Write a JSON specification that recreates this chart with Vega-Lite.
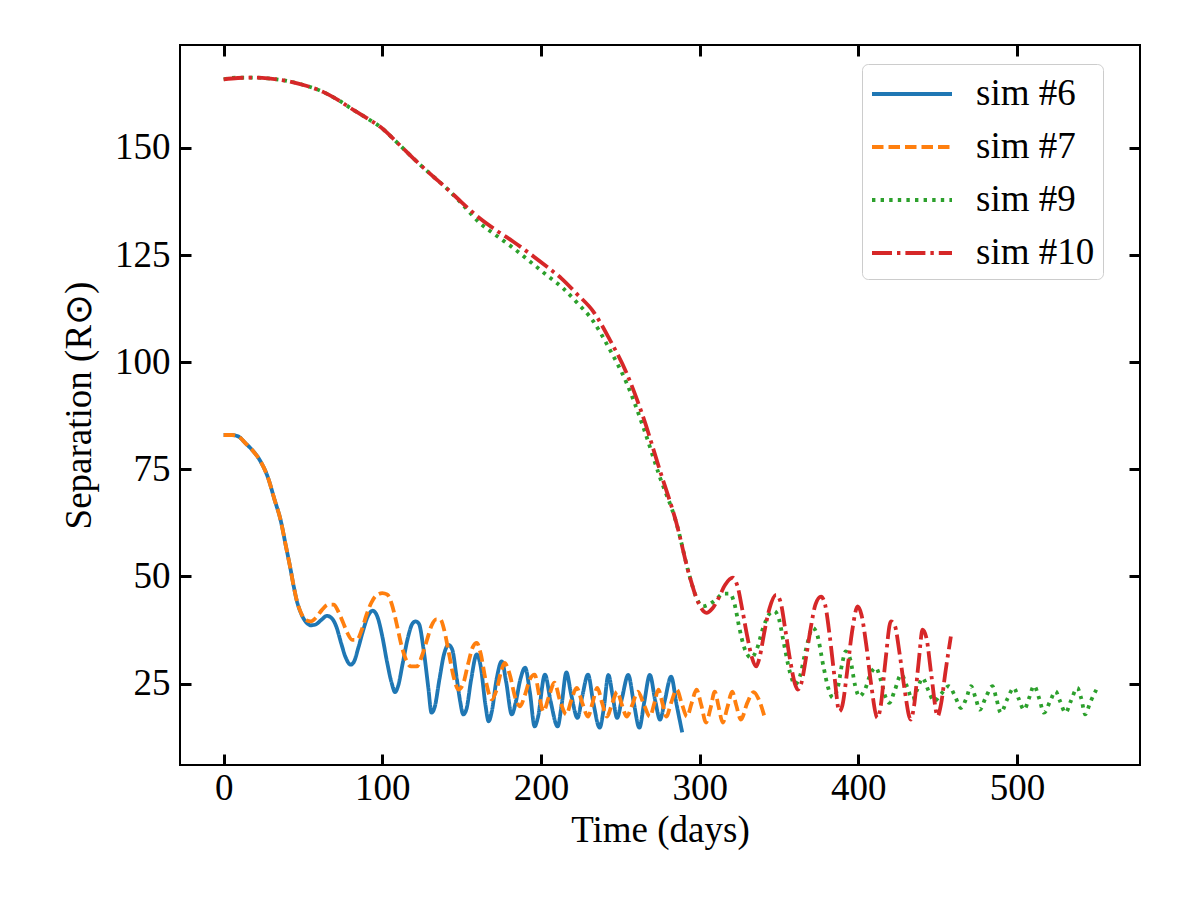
{
"$schema": "https://vega.github.io/schema/vega-lite/v6.json",
"width": 960, "height": 720,
"autosize": {"type": "none"},
"padding": {"left": 180, "top": 45, "right": 60, "bottom": 135},
"background": "white",
"config": {
  "view": {"stroke": "black", "strokeWidth": 2},
  "font": "Liberation Serif",
  "legend": {
    "orient": "none", "legendX": 682, "legendY": 19,
    "symbolType": "M-1,0H3", "symbolSize": 1600, "symbolStrokeWidth": 3.8,
    "labelFont": "Liberation Serif", "labelFontSize": 37, "labelColor": "black",
    "labelOffset": 62, "rowPadding": 13, "padding": 8,
    "strokeColor": "#cccccc", "fillColor": "white", "cornerRadius": 6
  }
},
"data": {"values": [
{"sim":"sim #6","t":0,"r":83},{"sim":"sim #6","t":5,"r":83},{"sim":"sim #6","t":9,"r":82.7},{"sim":"sim #6","t":14,"r":81},{"sim":"sim #6","t":18,"r":79.5},{"sim":"sim #6","t":23,"r":77},{"sim":"sim #6","t":28,"r":73},{"sim":"sim #6","t":32,"r":68},{"sim":"sim #6","t":36,"r":63},{"sim":"sim #6","t":39,"r":57.5},{"sim":"sim #6","t":42,"r":52},{"sim":"sim #6","t":44,"r":48},{"sim":"sim #6","t":46,"r":44.5},{"sim":"sim #6","t":49,"r":41.2},{"sim":"sim #6","t":52,"r":39.3},{"sim":"sim #6","t":55,"r":38.6},{"sim":"sim #6","t":58,"r":38.8},{"sim":"sim #6","t":62,"r":40},{"sim":"sim #6","t":65,"r":40.8},{"sim":"sim #6","t":68,"r":40.3},{"sim":"sim #6","t":71,"r":38.3},{"sim":"sim #6","t":74,"r":34.5},{"sim":"sim #6","t":77,"r":31},{"sim":"sim #6","t":80,"r":29.4},{"sim":"sim #6","t":82,"r":30},{"sim":"sim #6","t":85,"r":33.5},{"sim":"sim #6","t":88,"r":37.5},{"sim":"sim #6","t":91,"r":40.8},{"sim":"sim #6","t":94,"r":42},{"sim":"sim #6","t":97,"r":40.5},{"sim":"sim #6","t":100,"r":36},{"sim":"sim #6","t":103,"r":30},{"sim":"sim #6","t":106,"r":25},{"sim":"sim #6","t":108,"r":23},{"sim":"sim #6","t":110,"r":24.5},{"sim":"sim #6","t":113,"r":30},{"sim":"sim #6","t":116,"r":35.5},{"sim":"sim #6","t":119,"r":39},{"sim":"sim #6","t":121,"r":39.5},{"sim":"sim #6","t":123,"r":39},{"sim":"sim #6","t":126,"r":33},{"sim":"sim #6","t":129,"r":24},{"sim":"sim #6","t":131,"r":18.2},{"sim":"sim #6","t":133,"r":19.5},{"sim":"sim #6","t":136,"r":26},{"sim":"sim #6","t":139,"r":32},{"sim":"sim #6","t":141.7,"r":34},{"sim":"sim #6","t":144,"r":33},{"sim":"sim #6","t":147,"r":26},{"sim":"sim #6","t":149,"r":21},{"sim":"sim #6","t":151,"r":17.8},{"sim":"sim #6","t":153,"r":19},{"sim":"sim #6","t":156,"r":26},{"sim":"sim #6","t":159.5,"r":31.8},{"sim":"sim #6","t":162,"r":29},{"sim":"sim #6","t":165,"r":20},{"sim":"sim #6","t":167,"r":16.2},{"sim":"sim #6","t":169,"r":18.5},{"sim":"sim #6","t":172,"r":26},{"sim":"sim #6","t":175.3,"r":30.2},{"sim":"sim #6","t":178,"r":25.5},{"sim":"sim #6","t":181.6,"r":17.8},{"sim":"sim #6","t":184,"r":20.5},{"sim":"sim #6","t":187,"r":26},{"sim":"sim #6","t":190,"r":28.7},{"sim":"sim #6","t":193,"r":23},{"sim":"sim #6","t":196,"r":15},{"sim":"sim #6","t":198,"r":17},{"sim":"sim #6","t":202.5,"r":27.1},{"sim":"sim #6","t":206,"r":21},{"sim":"sim #6","t":210.5,"r":15},{"sim":"sim #6","t":213,"r":20},{"sim":"sim #6","t":216,"r":27.6},{"sim":"sim #6","t":219,"r":22.5},{"sim":"sim #6","t":223,"r":17},{"sim":"sim #6","t":226,"r":22},{"sim":"sim #6","t":229.6,"r":27.1},{"sim":"sim #6","t":233,"r":20.5},{"sim":"sim #6","t":237,"r":14.7},{"sim":"sim #6","t":239.5,"r":19},{"sim":"sim #6","t":242.5,"r":27},{"sim":"sim #6","t":245,"r":22.5},{"sim":"sim #6","t":248,"r":17},{"sim":"sim #6","t":251,"r":21.5},{"sim":"sim #6","t":255,"r":27},{"sim":"sim #6","t":258.5,"r":20.5},{"sim":"sim #6","t":262,"r":14.7},{"sim":"sim #6","t":265,"r":20.5},{"sim":"sim #6","t":268.6,"r":27},{"sim":"sim #6","t":272,"r":21},{"sim":"sim #6","t":275,"r":16.6},{"sim":"sim #6","t":278,"r":21},{"sim":"sim #6","t":282,"r":26.6},{"sim":"sim #6","t":285.5,"r":20},{"sim":"sim #6","t":289,"r":13.6},
{"sim":"sim #7","t":0,"r":83},{"sim":"sim #7","t":5,"r":83},{"sim":"sim #7","t":9,"r":82.7},{"sim":"sim #7","t":14,"r":81},{"sim":"sim #7","t":18,"r":79.5},{"sim":"sim #7","t":23,"r":77},{"sim":"sim #7","t":28,"r":73},{"sim":"sim #7","t":32,"r":68},{"sim":"sim #7","t":36,"r":63},{"sim":"sim #7","t":39,"r":57.5},{"sim":"sim #7","t":42,"r":52},{"sim":"sim #7","t":44,"r":48},{"sim":"sim #7","t":46,"r":44.5},{"sim":"sim #7","t":49,"r":41.3},{"sim":"sim #7","t":52,"r":39.8},{"sim":"sim #7","t":55,"r":39.5},{"sim":"sim #7","t":58,"r":40.3},{"sim":"sim #7","t":62,"r":42.2},{"sim":"sim #7","t":66,"r":43.4},{"sim":"sim #7","t":69.4,"r":43.4},{"sim":"sim #7","t":72,"r":42},{"sim":"sim #7","t":75,"r":39.5},{"sim":"sim #7","t":78,"r":36.8},{"sim":"sim #7","t":81,"r":35.2},{"sim":"sim #7","t":84,"r":35.2},{"sim":"sim #7","t":87,"r":37.5},{"sim":"sim #7","t":90,"r":41},{"sim":"sim #7","t":93,"r":43.8},{"sim":"sim #7","t":96,"r":45.5},{"sim":"sim #7","t":100,"r":46.1},{"sim":"sim #7","t":103,"r":45.8},{"sim":"sim #7","t":106,"r":43.5},{"sim":"sim #7","t":109,"r":39},{"sim":"sim #7","t":112,"r":34},{"sim":"sim #7","t":115,"r":30.5},{"sim":"sim #7","t":118,"r":29},{"sim":"sim #7","t":121.8,"r":29},{"sim":"sim #7","t":125,"r":31.5},{"sim":"sim #7","t":128,"r":35},{"sim":"sim #7","t":131,"r":38.5},{"sim":"sim #7","t":134,"r":40},{"sim":"sim #7","t":136.5,"r":40},{"sim":"sim #7","t":139,"r":37.5},{"sim":"sim #7","t":142,"r":32},{"sim":"sim #7","t":145,"r":26.5},{"sim":"sim #7","t":148,"r":23.6},{"sim":"sim #7","t":151,"r":25},{"sim":"sim #7","t":154,"r":29.5},{"sim":"sim #7","t":157,"r":33.5},{"sim":"sim #7","t":159.5,"r":34.5},{"sim":"sim #7","t":162,"r":32},{"sim":"sim #7","t":165,"r":26},{"sim":"sim #7","t":169,"r":21.3},{"sim":"sim #7","t":172,"r":23.5},{"sim":"sim #7","t":175,"r":28},{"sim":"sim #7","t":177,"r":29.8},{"sim":"sim #7","t":180,"r":27.5},{"sim":"sim #7","t":184,"r":21.5},{"sim":"sim #7","t":186.8,"r":19.7},{"sim":"sim #7","t":190,"r":22.5},{"sim":"sim #7","t":193,"r":26},{"sim":"sim #7","t":196,"r":27.1},{"sim":"sim #7","t":199,"r":22},{"sim":"sim #7","t":201.5,"r":18.5},{"sim":"sim #7","t":205,"r":22},{"sim":"sim #7","t":208.5,"r":25.2},{"sim":"sim #7","t":212,"r":21},{"sim":"sim #7","t":216,"r":17.8},{"sim":"sim #7","t":219,"r":21},{"sim":"sim #7","t":222.5,"r":24},{"sim":"sim #7","t":226,"r":20.5},{"sim":"sim #7","t":229.6,"r":17.3},{"sim":"sim #7","t":232.5,"r":20.5},{"sim":"sim #7","t":235.5,"r":24},{"sim":"sim #7","t":238.5,"r":20.5},{"sim":"sim #7","t":241.5,"r":17.3},{"sim":"sim #7","t":245,"r":20.5},{"sim":"sim #7","t":248,"r":23.1},{"sim":"sim #7","t":251,"r":20},{"sim":"sim #7","t":254,"r":17.3},{"sim":"sim #7","t":257.5,"r":20},{"sim":"sim #7","t":261,"r":23.1},{"sim":"sim #7","t":265,"r":20},{"sim":"sim #7","t":268.6,"r":17.3},{"sim":"sim #7","t":271.5,"r":20.5},{"sim":"sim #7","t":274,"r":23.6},{"sim":"sim #7","t":276.5,"r":20.5},{"sim":"sim #7","t":279,"r":17.3},{"sim":"sim #7","t":282,"r":20.5},{"sim":"sim #7","t":285.5,"r":23.6},{"sim":"sim #7","t":289,"r":20},{"sim":"sim #7","t":292,"r":17.3},{"sim":"sim #7","t":295,"r":20.5},{"sim":"sim #7","t":298,"r":23.6},{"sim":"sim #7","t":301,"r":20},{"sim":"sim #7","t":304,"r":15.9},{"sim":"sim #7","t":307,"r":19.5},{"sim":"sim #7","t":309.5,"r":23.1},{"sim":"sim #7","t":312,"r":19.5},{"sim":"sim #7","t":314.5,"r":15.9},{"sim":"sim #7","t":317.5,"r":19.5},{"sim":"sim #7","t":320.5,"r":23.1},{"sim":"sim #7","t":323,"r":20},{"sim":"sim #7","t":326,"r":16.6},{"sim":"sim #7","t":330,"r":20.5},{"sim":"sim #7","t":334,"r":23},{"sim":"sim #7","t":337,"r":21.5},{"sim":"sim #7","t":341,"r":17.1},
{"sim":"sim #9","t":0,"r":166},{"sim":"sim #9","t":9,"r":166.4},{"sim":"sim #9","t":18,"r":166.4},{"sim":"sim #9","t":28,"r":166.2},{"sim":"sim #9","t":40,"r":165.6},{"sim":"sim #9","t":52,"r":164.5},{"sim":"sim #9","t":63,"r":163},{"sim":"sim #9","t":72,"r":161.2},{"sim":"sim #9","t":82,"r":158.8},{"sim":"sim #9","t":90,"r":157},{"sim":"sim #9","t":98.7,"r":154.9},{"sim":"sim #9","t":110,"r":151},{"sim":"sim #9","t":119.7,"r":147.5},{"sim":"sim #9","t":130,"r":144},{"sim":"sim #9","t":140.7,"r":140.5},{"sim":"sim #9","t":150,"r":137},{"sim":"sim #9","t":161.6,"r":132.4},{"sim":"sim #9","t":172,"r":129.5},{"sim":"sim #9","t":182.6,"r":126.6},{"sim":"sim #9","t":193,"r":123.5},{"sim":"sim #9","t":203.6,"r":120.3},{"sim":"sim #9","t":214,"r":117.2},{"sim":"sim #9","t":222.4,"r":114},{"sim":"sim #9","t":233,"r":109.5},{"sim":"sim #9","t":243.4,"r":102.9},{"sim":"sim #9","t":254,"r":95.1},{"sim":"sim #9","t":264.3,"r":85},{"sim":"sim #9","t":274.8,"r":73.3},{"sim":"sim #9","t":285.3,"r":62.5},{"sim":"sim #9","t":293.7,"r":50},{"sim":"sim #9","t":298,"r":45},{"sim":"sim #9","t":302,"r":43},{"sim":"sim #9","t":306,"r":43.5},{"sim":"sim #9","t":310,"r":44.5},{"sim":"sim #9","t":315,"r":46},{"sim":"sim #9","t":319,"r":46},{"sim":"sim #9","t":322,"r":43.5},{"sim":"sim #9","t":325,"r":38},{"sim":"sim #9","t":328,"r":33.5},{"sim":"sim #9","t":332.5,"r":31},{"sim":"sim #9","t":336,"r":33},{"sim":"sim #9","t":340,"r":38},{"sim":"sim #9","t":344,"r":41.3},{"sim":"sim #9","t":347,"r":41.9},{"sim":"sim #9","t":350,"r":40},{"sim":"sim #9","t":353,"r":34.5},{"sim":"sim #9","t":357,"r":27.5},{"sim":"sim #9","t":360,"r":24.8},{"sim":"sim #9","t":363,"r":26.5},{"sim":"sim #9","t":367,"r":33},{"sim":"sim #9","t":371.3,"r":38},{"sim":"sim #9","t":374,"r":36.5},{"sim":"sim #9","t":378,"r":29},{"sim":"sim #9","t":381,"r":24},{"sim":"sim #9","t":384,"r":21.7},{"sim":"sim #9","t":387,"r":24},{"sim":"sim #9","t":390,"r":30},{"sim":"sim #9","t":392,"r":32.5},{"sim":"sim #9","t":395,"r":30.5},{"sim":"sim #9","t":398,"r":24.5},{"sim":"sim #9","t":400.6,"r":22},{"sim":"sim #9","t":404,"r":23.5},{"sim":"sim #9","t":408,"r":27.5},{"sim":"sim #9","t":411,"r":28.7},{"sim":"sim #9","t":414,"r":26},{"sim":"sim #9","t":417,"r":22},{"sim":"sim #9","t":419.5,"r":20.5},{"sim":"sim #9","t":423,"r":23.5},{"sim":"sim #9","t":427,"r":27.1},{"sim":"sim #9","t":431,"r":24},{"sim":"sim #9","t":434,"r":21.3},{"sim":"sim #9","t":437,"r":23.5},{"sim":"sim #9","t":440.5,"r":26.3},{"sim":"sim #9","t":444,"r":23.5},{"sim":"sim #9","t":447.8,"r":20.9},{"sim":"sim #9","t":452,"r":22.5},{"sim":"sim #9","t":457,"r":24.4},{"sim":"sim #9","t":461,"r":22},{"sim":"sim #9","t":464.6,"r":19.3},{"sim":"sim #9","t":468,"r":21.5},{"sim":"sim #9","t":471,"r":24.4},{"sim":"sim #9","t":474,"r":21.5},{"sim":"sim #9","t":476.5,"r":18.9},{"sim":"sim #9","t":480,"r":21.5},{"sim":"sim #9","t":484.5,"r":24.4},{"sim":"sim #9","t":487,"r":21.5},{"sim":"sim #9","t":489.7,"r":18.2},{"sim":"sim #9","t":494,"r":21.5},{"sim":"sim #9","t":498,"r":24},{"sim":"sim #9","t":501,"r":21.5},{"sim":"sim #9","t":504.4,"r":18.9},{"sim":"sim #9","t":507.5,"r":21.5},{"sim":"sim #9","t":510.7,"r":24.5},{"sim":"sim #9","t":514,"r":21.5},{"sim":"sim #9","t":517,"r":18.2},{"sim":"sim #9","t":521,"r":21},{"sim":"sim #9","t":524.3,"r":23.2},{"sim":"sim #9","t":527,"r":21},{"sim":"sim #9","t":530.6,"r":18.2},{"sim":"sim #9","t":534,"r":21},{"sim":"sim #9","t":538,"r":24},{"sim":"sim #9","t":540.5,"r":21.5},{"sim":"sim #9","t":543,"r":17.8},{"sim":"sim #9","t":546,"r":20.5},{"sim":"sim #9","t":550,"r":23.6},
{"sim":"sim #10","t":0,"r":166},{"sim":"sim #10","t":9,"r":166.3},{"sim":"sim #10","t":18,"r":166.4},{"sim":"sim #10","t":28,"r":166.2},{"sim":"sim #10","t":40,"r":165.6},{"sim":"sim #10","t":52,"r":164.5},{"sim":"sim #10","t":63,"r":163},{"sim":"sim #10","t":72,"r":161.2},{"sim":"sim #10","t":82,"r":158.8},{"sim":"sim #10","t":90,"r":157},{"sim":"sim #10","t":98.7,"r":154.9},{"sim":"sim #10","t":110,"r":151},{"sim":"sim #10","t":119.7,"r":147.5},{"sim":"sim #10","t":130,"r":144},{"sim":"sim #10","t":140.7,"r":140.5},{"sim":"sim #10","t":150,"r":137.3},{"sim":"sim #10","t":161.6,"r":133.5},{"sim":"sim #10","t":172,"r":130.7},{"sim":"sim #10","t":182.6,"r":128.1},{"sim":"sim #10","t":193,"r":125.3},{"sim":"sim #10","t":203.6,"r":122.3},{"sim":"sim #10","t":213,"r":119.5},{"sim":"sim #10","t":222.4,"r":116},{"sim":"sim #10","t":233,"r":111.8},{"sim":"sim #10","t":243.4,"r":105.2},{"sim":"sim #10","t":254,"r":97.4},{"sim":"sim #10","t":264.3,"r":87.3},{"sim":"sim #10","t":274.8,"r":74.9},{"sim":"sim #10","t":285.3,"r":62.5},{"sim":"sim #10","t":293.7,"r":50},{"sim":"sim #10","t":299,"r":44},{"sim":"sim #10","t":304.2,"r":41.5},{"sim":"sim #10","t":308,"r":42.5},{"sim":"sim #10","t":312,"r":45},{"sim":"sim #10","t":316,"r":48},{"sim":"sim #10","t":321,"r":49.7},{"sim":"sim #10","t":324,"r":47.5},{"sim":"sim #10","t":327,"r":42},{"sim":"sim #10","t":330,"r":36},{"sim":"sim #10","t":333,"r":31},{"sim":"sim #10","t":335.6,"r":29},{"sim":"sim #10","t":338,"r":31.5},{"sim":"sim #10","t":341,"r":37.5},{"sim":"sim #10","t":344,"r":42.5},{"sim":"sim #10","t":348.2,"r":45.7},{"sim":"sim #10","t":351,"r":44},{"sim":"sim #10","t":354,"r":37.5},{"sim":"sim #10","t":357,"r":30.5},{"sim":"sim #10","t":360,"r":25},{"sim":"sim #10","t":361.8,"r":23.6},{"sim":"sim #10","t":364,"r":25},{"sim":"sim #10","t":367,"r":31},{"sim":"sim #10","t":370,"r":38},{"sim":"sim #10","t":373,"r":43.5},{"sim":"sim #10","t":376.5,"r":45.3},{"sim":"sim #10","t":379,"r":43.5},{"sim":"sim #10","t":382,"r":36},{"sim":"sim #10","t":385,"r":26.5},{"sim":"sim #10","t":388,"r":18.5},{"sim":"sim #10","t":390,"r":20},{"sim":"sim #10","t":393,"r":28},{"sim":"sim #10","t":396,"r":37},{"sim":"sim #10","t":399.6,"r":43},{"sim":"sim #10","t":402,"r":41},{"sim":"sim #10","t":405,"r":34},{"sim":"sim #10","t":408,"r":25},{"sim":"sim #10","t":412,"r":17},{"sim":"sim #10","t":414,"r":19.5},{"sim":"sim #10","t":417,"r":30},{"sim":"sim #10","t":420.5,"r":39.5},{"sim":"sim #10","t":423,"r":38.5},{"sim":"sim #10","t":426,"r":32},{"sim":"sim #10","t":429,"r":24},{"sim":"sim #10","t":433,"r":16.6},{"sim":"sim #10","t":435,"r":19.5},{"sim":"sim #10","t":438,"r":30},{"sim":"sim #10","t":440.5,"r":37.6},{"sim":"sim #10","t":443,"r":35.5},{"sim":"sim #10","t":446,"r":27},{"sim":"sim #10","t":450,"r":17.4},{"sim":"sim #10","t":452,"r":20},{"sim":"sim #10","t":455,"r":28},{"sim":"sim #10","t":458.3,"r":36}
]},
"layer": [
  {
    "mark": {"type": "line", "strokeWidth": 3.8, "interpolate": "monotone"},
    "encoding": {
      "x": {"field": "t", "type": "quantitative",
        "scale": {"domain": [-27.5, 577.5], "nice": false, "zero": false},
        "axis": {"orient": "bottom", "values": [0,100,200,300,400,500], "offset": -11, "tickSize": 11, "tickWidth": 3, "tickColor": "black", "domain": false, "grid": false,
          "labelFont": "Liberation Serif", "labelFontSize": 37, "labelColor": "black", "labelPadding": 5,
          "title": "Time (days)", "titleFont": "Liberation Serif", "titleFontSize": 37, "titleFontWeight": "normal", "titleColor": "black", "titlePadding": 6}},
      "y": {"field": "r", "type": "quantitative",
        "scale": {"domain": [6, 174], "nice": false, "zero": false},
        "axis": {"orient": "left", "values": [25,50,75,100,125,150], "offset": -11, "tickSize": 11, "tickWidth": 3, "tickColor": "black", "domain": false, "grid": false,
          "labelFont": "Liberation Serif", "labelFontSize": 37, "labelColor": "black", "labelPadding": 10,
          "title": "Separation (R⊙)", "titleFont": "Liberation Serif", "titleFontSize": 37, "titleFontWeight": "normal", "titleColor": "black", "titlePadding": 16}},
      "color": {"field": "sim", "type": "nominal",
        "scale": {"domain": ["sim #6","sim #7","sim #9","sim #10"], "range": ["#1f77b4","#ff7f0e","#2ca02c","#d62728"]},
        "legend": {"title": null}},
      "strokeDash": {"field": "sim", "type": "nominal",
        "scale": {"domain": ["sim #6","sim #7","sim #9","sim #10"], "range": [[1,0],[11.5,5],[3.4,5.2],[20,5,3.4,5]]},
        "legend": {"title": null}}
    }
  },
  {
    "mark": {"type": "point", "opacity": 0},
    "encoding": {
      "x": {"field": "t", "type": "quantitative",
        "axis": {"orient": "top", "values": [0,100,200,300,400,500], "offset": -11, "tickSize": 11, "tickWidth": 3, "tickColor": "black", "domain": false, "grid": false, "labels": false, "title": null}},
      "y": {"field": "r", "type": "quantitative",
        "axis": {"orient": "right", "values": [25,50,75,100,125,150], "offset": -11, "tickSize": 11, "tickWidth": 3, "tickColor": "black", "domain": false, "grid": false, "labels": false, "title": null}}
    }
  }
],
"resolve": {"axis": {"x": "independent", "y": "independent"}}
}
